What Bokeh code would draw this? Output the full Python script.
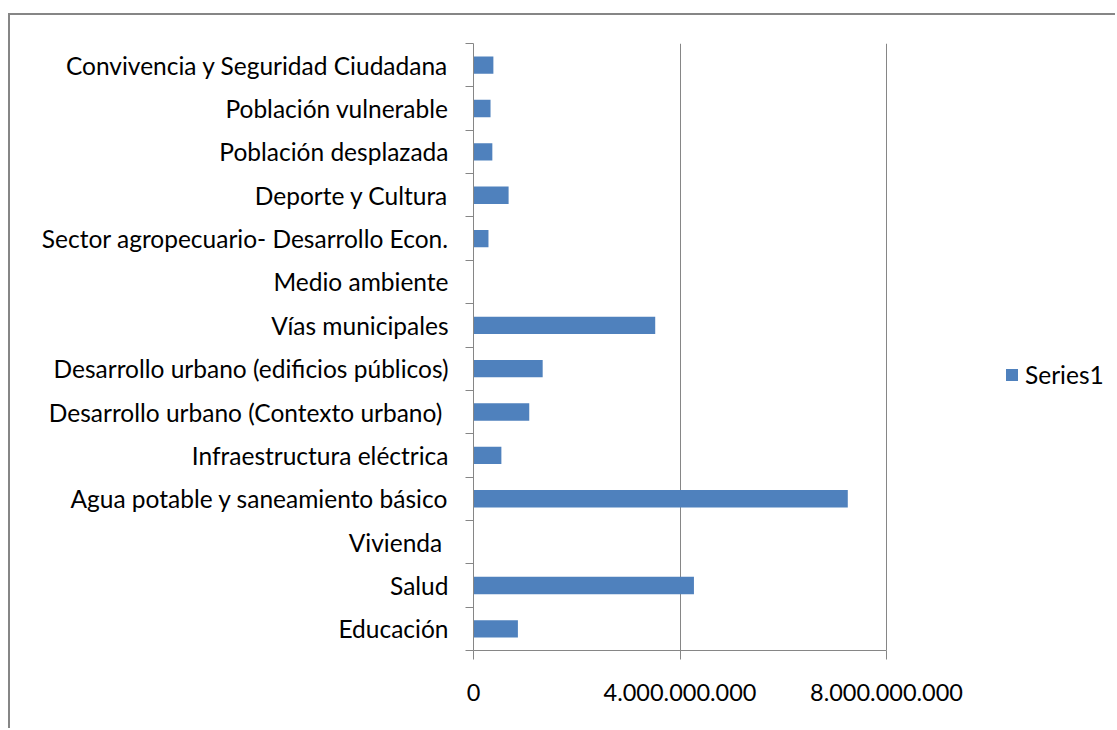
from bokeh.plotting import figure
from bokeh.models import Range1d, FixedTicker, Legend, LegendItem, ColumnDataSource
from bokeh.embed import file_html
from bokeh.resources import INLINE

# ---- data (bottom to top, as in the chart) ----
categories = [
    "Educación",
    "Salud",
    "Vivienda\u00a0",
    "Agua potable y saneamiento básico",
    "Infraestructura eléctrica",
    "Desarrollo urbano (Contexto urbano)\u00a0",
    "Desarrollo urbano (edificios públicos)",
    "Vías municipales",
    "Medio ambiente",
    "Sector agropecuario- Desarrollo Econ.",
    "Deporte y Cultura",
    "Población desplazada",
    "Población vulnerable",
    "Convivencia y Seguridad Ciudadana",
]
series1 = [
    860_000_000,
    4_270_000_000,
    0,
    7_250_000_000,
    540_000_000,
    1_080_000_000,
    1_340_000_000,
    3_520_000_000,
    0,
    290_000_000,
    680_000_000,
    365_000_000,
    330_000_000,
    385_000_000,
]
series_name = "Series1"
x_tick_values = [0, 4_000_000_000, 8_000_000_000]
x_tick_labels = ["0", "4.000.000.000", "8.000.000.000"]
x_max = 8_000_000_000

# ---- styles / layout ----
BAR = "#4F81BD"
GRAY = "#868686"
FONT = "Lato"
FS_CAT = "24.5px"
FS_TICK = "23.5px"
W, H = 1107, 715
LEFT, TOP, BOTTOM = 463, 28, 80
AXIS_PX = 413                       # pixel length of the 0..x_max axis
frame_w = W - LEFT
x_view_max = x_max * frame_w / AXIS_PX   # frame extends under the legend area

n = len(categories)
centers = [i + 0.5 for i in range(n)]
boundaries = list(range(n + 1))

src = ColumnDataSource(dict(y=centers, right=series1, cat=categories))

p = figure(
    width=W, height=H,
    output_backend="svg", toolbar_location=None,
    x_range=Range1d(0, x_view_max), y_range=Range1d(0, n),
    min_border_left=LEFT, min_border_right=0,
    min_border_top=TOP, min_border_bottom=BOTTOM,
    styles={"border-left": f"2px solid {GRAY}", "border-top": f"2px solid {GRAY}",
            "margin-top": "13px", "margin-left": "8px"},
)
p.outline_line_color = None
p.background_fill_color = "white"
p.border_fill_color = "white"

r = p.hbar(y="y", right="right", left=0, height=0.4, source=src,
           fill_color=BAR, line_color=None)

# x axis
xa = p.xaxis[0]
xa.ticker = FixedTicker(ticks=x_tick_values)
xa.bounds = (0, x_max)
xa.major_label_overrides = {v: l for v, l in zip(x_tick_values, x_tick_labels)}
xa.axis_line_color = GRAY
xa.major_tick_line_color = GRAY
xa.major_tick_out = 9
xa.major_tick_in = 0
xa.minor_tick_line_color = None
xa.major_label_text_font = FONT
xa.major_label_text_font_size = FS_TICK
xa.major_label_text_color = "black"
xa.major_label_standoff = 24

# y axis
ya = p.yaxis[0]
ya.ticker = FixedTicker(ticks=centers, minor_ticks=boundaries)
ya.major_label_overrides = {c: name for c, name in zip(centers, categories)}
ya.axis_line_color = GRAY
ya.major_tick_line_color = None
ya.major_tick_out = 0
ya.major_tick_in = 0
ya.minor_tick_line_color = GRAY
ya.minor_tick_out = 8
ya.minor_tick_in = 0
ya.major_label_text_font = FONT
ya.major_label_text_font_size = FS_CAT
ya.major_label_text_color = "black"
ya.major_label_standoff = 17

# grid
p.xgrid.ticker = FixedTicker(ticks=x_tick_values[1:])
p.xgrid.grid_line_color = GRAY
p.ygrid.grid_line_color = None

legend = Legend(
    items=[LegendItem(label=series_name, renderers=[r])],
    location=(531, 261),
    padding=0, margin=0, spacing=0,
    glyph_width=15, glyph_height=15, label_standoff=6,
    border_line_color=None, background_fill_alpha=0,
    label_text_font=FONT, label_text_font_size=FS_CAT, label_text_color="black",
)
p.add_layout(legend, "center")

open("out.html", "w").write(file_html(p, INLINE))
